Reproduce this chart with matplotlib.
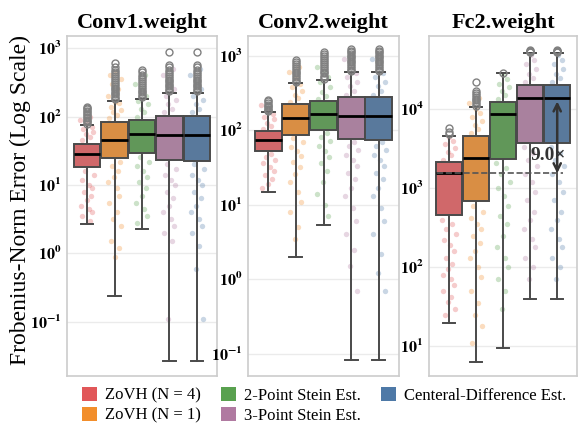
import colorsys
import numpy as np
import matplotlib
matplotlib.use("Agg")
import matplotlib.pyplot as plt
from matplotlib.patches import Patch
from matplotlib.ticker import LogLocator, NullLocator, FuncFormatter

plt.rcParams['font.family'] = ['Liberation Serif', 'DejaVu Serif']
plt.rcParams['mathtext.fontset'] = 'stix'

panels = ["Conv1.weight", "Conv2.weight", "Fc2.weight"]
methods = ["ZoVH (N = 4)", "ZoVH (N = 1)", "2-Point Stein Est.",
           "3-Point Stein Est.", "Centeral-Difference Est."]
colors = ["#e15759", "#f28e2b", "#59a14f", "#b07aa1", "#4e79a7"]

# box statistics per panel, one value per method
med = [[28, 46, 55, 53, 53],
       [73, 145, 164, 155, 155],
       [1540, 2400, 8660, 13900, 13900]]
q1 = [[18.6, 25, 29.8, 22.8, 22.5],
      [52, 86, 100, 76, 75],
      [455, 685, 2330, 3700, 3700]]
q3 = [[40, 84.5, 90, 103, 103],
      [98, 223, 245, 277, 277],
      [2130, 4560, 12200, 20100, 20100]]
whislo = [[2.65, 0.235, 2.3, 0.0265, 0.0265],
          [15, 1.97, 5.3, 0.081, 0.081],
          [19.5, 6.3, 9.4, 39, 39]]
whishi = [[74, 171, 183, 224, 224],
          [175, 428, 470, 600, 600],
          [4560, 10600, 28600, 51000, 51000]]

fliers = [
    [[78, 82, 86, 90, 95, 100, 105, 110, 116, 122, 128, 134, 140],
     [178, 188, 198, 210, 222, 235, 250, 265, 280, 300, 320, 340, 365, 390, 420, 450, 480, 520, 600],
     [190, 200, 212, 225, 238, 252, 268, 285, 305, 325, 350, 375, 400, 440, 485],
     [232, 245, 260, 275, 290, 308, 326, 345, 368, 392, 420, 450, 485, 530, 575, 890],
     [232, 245, 260, 275, 290, 308, 326, 345, 368, 392, 420, 450, 485, 530, 575, 890]],
    [[180, 187, 195, 203, 212, 222, 232, 245, 255],
     [440, 465, 490, 520, 550, 580, 615, 650, 690, 730, 775, 820, 870],
     [485, 515, 545, 580, 615, 650, 690, 735, 780, 830, 880, 935, 990, 1050, 1120],
     [620, 655, 690, 730, 770, 815, 860, 910, 960, 1010, 1070, 1130, 1180, 1220],
     [620, 655, 690, 730, 770, 815, 860, 910, 960, 1010, 1070, 1130, 1180, 1220]],
    [[4800, 5200, 5700],
     [11000, 11600, 12200, 12900, 13600, 14300, 15100, 16000, 17000, 21700],
     [29000],
     [52000, 53000, 54000, 55000, 56000],
     [52000, 53000, 54000, 55000, 56000]],
]

# individual samples drawn as faint strip points
points = [
    [[45, 50, 55, 60, 65, 70, 80, 90, 100, 16, 14, 12, 10, 9, 8, 7, 6, 5, 4.5, 4, 3.5, 3],
     [95, 105, 115, 125, 140, 155, 165, 200, 250, 300, 350, 400, 450,
      22, 19, 16, 13, 11, 9, 7, 5.5, 4, 3.2, 2.5, 1.5, 1.2, 0.9],
     [100, 115, 130, 150, 170, 200, 250, 300, 400,
      26, 22, 19, 16, 13, 11, 9, 7, 5.5, 4.5, 3.5, 2.8],
     [115, 130, 150, 175, 200, 250, 300, 400, 500,
      20, 17, 14, 12, 10, 8, 6.5, 5, 4, 3.2, 2.5, 2, 1.5, 0.11],
     [115, 130, 150, 175, 200, 250, 300, 400, 500,
      20, 17, 14, 12, 10, 8, 6.5, 5, 4, 3.2, 2.5, 2, 1.3, 0.6, 0.11]],
    [[105, 115, 125, 140, 150, 165, 190, 220, 48, 44, 40, 36, 32, 28, 25, 22, 19, 17],
     [240, 270, 300, 340, 380, 420, 500, 600, 700,
      80, 70, 60, 52, 45, 38, 32, 26, 20, 15, 11, 8, 5, 3.5],
     [260, 290, 330, 380, 450, 520, 600, 700,
      92, 82, 72, 62, 52, 44, 36, 28, 20, 14, 10, 7],
     [300, 340, 390, 450, 520, 580, 700, 900,
      70, 62, 54, 46, 40, 33, 27, 22, 17, 13, 9, 6, 4, 2.5, 1.5, 0.7],
     [300, 340, 390, 450, 520, 580, 700, 900,
      70, 62, 54, 46, 40, 33, 27, 22, 17, 13, 9, 6, 4, 2.2, 1.2, 0.7]],
    [[2300, 2600, 2900, 3200, 3600, 4000, 4400,
      400, 350, 300, 260, 220, 190, 160, 130, 110, 95, 80, 70, 60, 50, 42, 36, 30, 25],
     [5000, 5600, 6200, 7000, 8000, 9000, 10000, 12000, 14000,
      600, 500, 420, 350, 300, 250, 200, 160, 130, 100, 75, 50, 35, 25, 18, 11],
     [13500, 15000, 17000, 19000, 21000, 24000, 27000,
      2100, 1800, 1500, 1200, 1000, 800, 600, 450, 350, 250, 180, 130, 100, 70, 50, 30],
     [22000, 25000, 28000, 32000, 37000, 42000, 48000,
      3300, 2800, 2300, 1900, 1500, 1200, 900, 700, 500, 400, 300, 230, 180, 130, 100, 70],
     [22000, 25000, 28000, 32000, 37000, 42000, 48000,
      3300, 2800, 2300, 1900, 1500, 1200, 900, 700, 500, 400, 300, 230, 180, 130, 100, 70]],
]

ylims = [(0.0162, 1500), (0.05, 1850), (4.2, 84000)]
jitter = [-0.22, 0.1, -0.05, 0.25, -0.15, 0.18, 0.02, -0.27, 0.13, -0.1,
          0.28, -0.2, 0.06, 0.22, -0.12, 0.15, -0.02, -0.25, 0.08, 0.2]


def desat(c, s=0.75):
    r, g, b = matplotlib.colors.to_rgb(c)
    h, l, sat = colorsys.rgb_to_hls(r, g, b)
    return colorsys.hls_to_rgb(h, l, sat * s)


def log_fmt(v, pos):
    return r'$\mathbf{10^{%d}}$' % int(round(np.log10(v)))


fig = plt.figure(figsize=(5.8, 4.26), dpi=100)
lefts = [67, 248, 429]
widths = [150, 151, 148]
axes = [fig.add_axes([l / 580, 50 / 426, w / 580, 340 / 426]) for l, w in zip(lefts, widths)]

for p, ax in enumerate(axes):
    ax.set_yscale('log')
    for m in range(5):
        ys = points[p][m]
        xs = [m + jitter[i % len(jitter)] * 0.9 for i in range(len(ys))]
        ax.scatter(xs, ys, s=15, color=colors[m], alpha=0.3, lw=0, zorder=1)
    stats = []
    for m in range(5):
        stats.append(dict(med=med[p][m], q1=q1[p][m], q3=q3[p][m],
                          whislo=whislo[p][m], whishi=whishi[p][m],
                          fliers=fliers[p][m]))
    bp = ax.bxp(stats, positions=range(5), widths=0.97, patch_artist=True,
                showfliers=True, manage_ticks=False,
                boxprops=dict(edgecolor='#4a4a4a', lw=1.4),
                medianprops=dict(color='black', lw=2),
                whiskerprops=dict(color='#4a4a4a', lw=1.4),
                capprops=dict(color='#4a4a4a', lw=1.4),
                flierprops=dict(marker='o', markersize=5, markerfacecolor='none',
                                markeredgecolor='#808080', markeredgewidth=1))
    for patch, c in zip(bp['boxes'], colors):
        patch.set_facecolor(desat(c))
        patch.set_zorder(3)
    for ln in bp['medians']:
        ln.set_zorder(4)
    for cap in bp['caps']:
        xd = cap.get_xdata()
        mid = (xd[0] + xd[1]) / 2
        cap.set_xdata([mid - 0.23, mid + 0.23])

    ax.set_xlim(-0.73, 4.73)
    ax.set_ylim(*ylims[p])
    ax.set_xticks([])
    ax.yaxis.set_major_locator(LogLocator(base=10, numticks=20))
    ax.yaxis.set_minor_locator(NullLocator())
    ax.yaxis.set_major_formatter(FuncFormatter(log_fmt))
    ax.tick_params(axis='y', length=0, labelsize=11.5, pad=4)
    ax.grid(axis='y', color='#ebebeb', lw=1, zorder=0)
    ax.set_axisbelow(True)
    for s in ax.spines.values():
        s.set_color('#cccccc')
        s.set_linewidth(1.2)
    ax.set_title(panels[p], fontsize=16, fontweight='bold', pad=6)

# ratio annotation in the last panel
ax = axes[2]
ratio = med[2][4] / med[2][0]
ax.hlines(med[2][0], -0.43, 4.2, colors='#555555', linestyles='--', lw=1.2, zorder=5)
ax.annotate('', xy=(4, med[2][4] * 0.9), xytext=(4, med[2][0]),
            arrowprops=dict(arrowstyle='<->', color='#333333', lw=1.8,
                            mutation_scale=13, shrinkA=0, shrinkB=0), zorder=6)
ax.text(3.68, 2620, f"{ratio:.1f}\u00d7", ha='center', va='center',
        fontsize=14, fontweight='bold', color='#333333', zorder=7)

fig.text(0.035, 1 - 200 / 426, "Frobenius-Norm Error (Log Scale)", rotation=90,
         ha='center', va='center', fontsize=17)

handles = [Patch(facecolor=c, edgecolor='none') for c in colors]
fig.legend(handles, methods, loc='lower left', bbox_to_anchor=(0.115, -0.03),
           ncol=3, frameon=False, fontsize=12, handlelength=0.9, handleheight=0.9,
           handletextpad=0.5, columnspacing=1.2, labelspacing=0.2)

fig.savefig("out.png", dpi=100)
